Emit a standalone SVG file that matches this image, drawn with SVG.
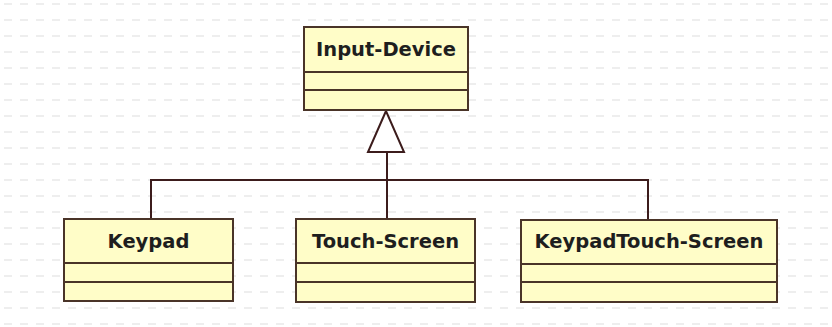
<svg xmlns="http://www.w3.org/2000/svg" width="832" height="327" viewBox="0 0 832 327">
<style>
.box{fill:#fffdc8;stroke:#4a3428;stroke-width:2}
.div{stroke:#4a3428;stroke-width:2}
.lbl{font-family:"DejaVu Sans",Verdana,sans-serif;font-weight:bold;font-size:19.5px;fill:#1e1e1e;text-anchor:middle}
.con{fill:none;stroke:#3c1c1c;stroke-width:2}
</style>
<defs>
<pattern id="grid" width="16" height="16" patternUnits="userSpaceOnUse">
<line x1="4" y1="4" x2="12" y2="4" stroke="#e9e9e9" stroke-width="1.5"/>
</pattern>
</defs>
<rect width="832" height="327" fill="#ffffff"/>
<rect width="832" height="327" fill="url(#grid)"/>
<g id="connectors">
<path class="con" d="M151,219 V180 H648 V220"/>
<path class="con" d="M387,180 V219"/>
<path class="con" d="M387,152 V180" stroke-width="3"/>
<polygon points="386,111 368,152 404,152" fill="#ffffff" stroke="#3c1c1c" stroke-width="2"/>
</g>
<g id="input-device">
<rect class="box" x="304" y="27" width="164" height="83"/>
<line class="div" x1="304" y1="72" x2="468" y2="72"/>
<line class="div" x1="304" y1="90" x2="468" y2="90"/>
<text class="lbl" x="386" y="56">Input-Device</text>
</g>
<g id="keypad">
<rect class="box" x="64" y="219" width="169" height="82"/>
<line class="div" x1="64" y1="263" x2="233" y2="263"/>
<line class="div" x1="64" y1="282" x2="233" y2="282"/>
<text class="lbl" x="148.5" y="248">Keypad</text>
</g>
<g id="touch-screen">
<rect class="box" x="296" y="219" width="179" height="83"/>
<line class="div" x1="296" y1="263" x2="475" y2="263"/>
<line class="div" x1="296" y1="282" x2="475" y2="282"/>
<text class="lbl" x="385.5" y="248">Touch-Screen</text>
</g>
<g id="keypadtouch-screen">
<rect class="box" x="521" y="220" width="256" height="82"/>
<line class="div" x1="521" y1="264" x2="777" y2="264"/>
<line class="div" x1="521" y1="282" x2="777" y2="282"/>
<text class="lbl" x="649" y="248">KeypadTouch-Screen</text>
</g>
</svg>
